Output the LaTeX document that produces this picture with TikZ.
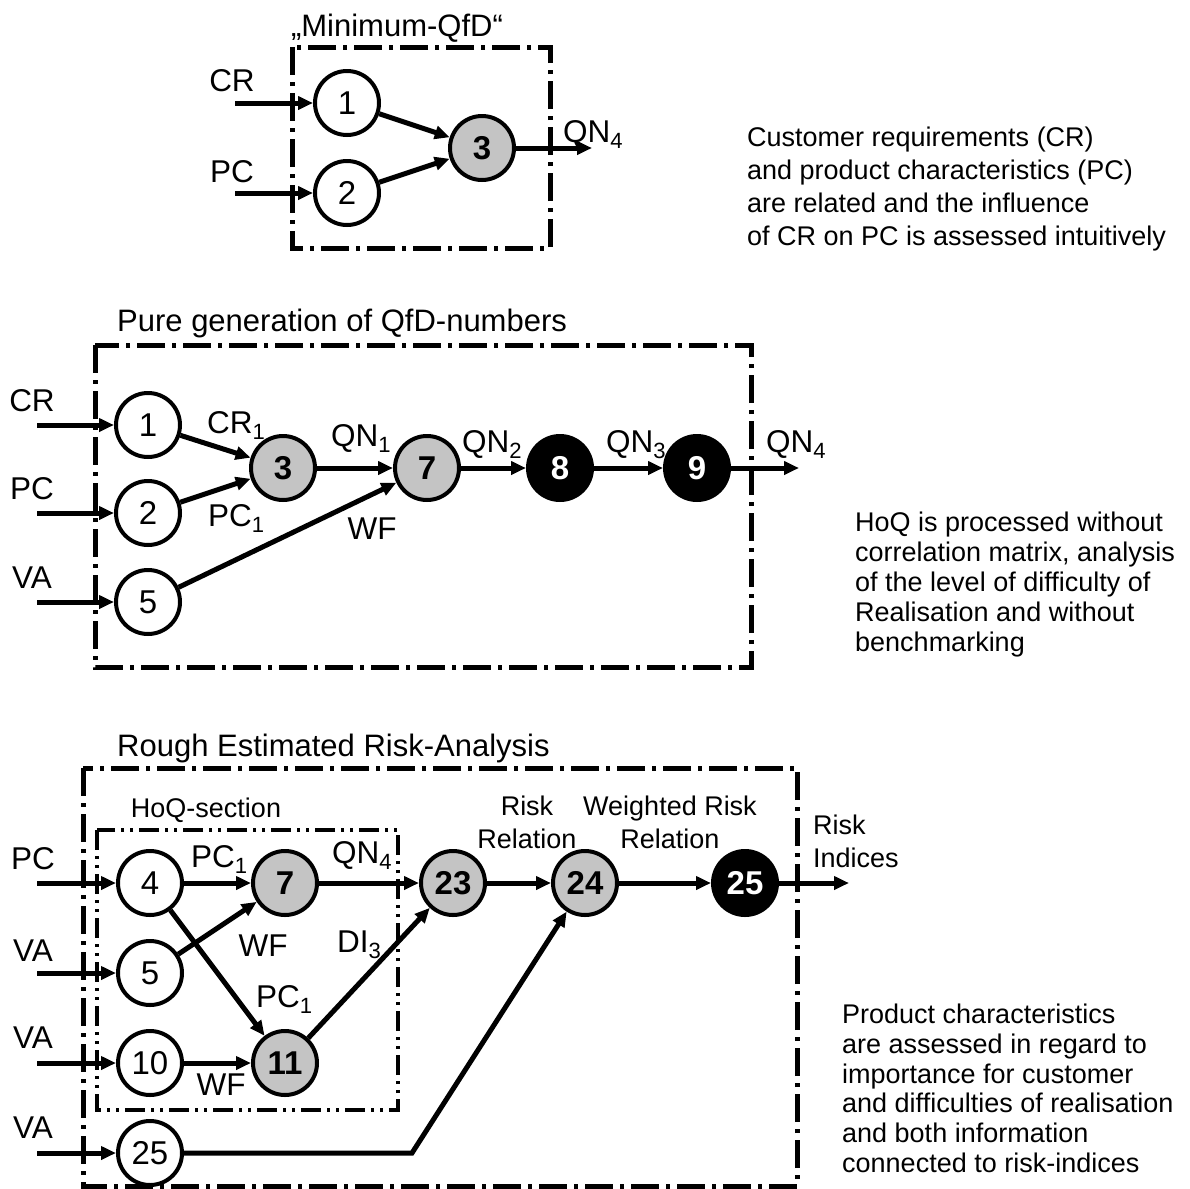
\documentclass[tikz,border=0pt]{standalone}
\usepackage{fontspec}
\setmainfont{Liberation Sans}
\usetikzlibrary{arrows.meta}
\definecolor{hatch}{RGB}{196,196,196}
\begin{document}
\begin{tikzpicture}[x=1pt,y=-1pt,
  circW/.style={circle, draw, line width=4pt, minimum size=64pt, inner sep=0pt, fill=white, font=\fontsize{33}{38}\selectfont},
  circG/.style={circW, fill=hatch, font=\fontsize{33}{38}\selectfont\bfseries},
  circB/.style={circW, fill=black, text=white, font=\fontsize{33}{38}\selectfont\bfseries},
  arr/.style={line width=5pt, -{Triangle[length=15pt,width=13pt]}},
  ddbox/.style={line width=5pt, dash pattern=on 28pt off 7pt on 4pt off 7pt},
  hoqbox/.style={line width=4pt, dash pattern=on 20pt off 6pt on 3pt off 6pt on 3pt off 6pt},
  lab/.style={inner sep=0pt, font=\fontsize{31.5}{36}\selectfont},
  slab/.style={inner sep=0pt, font=\fontsize{27}{33}\selectfont},
  ttl/.style={inner sep=0pt, font=\fontsize{31}{37}\selectfont},
  desc/.style={inner sep=0pt, align=left, anchor=north west}
]
\useasboundingbox (0,0) rectangle (1189,1189);

% ---------------- top: Minimum-QfD ----------------
\node[ttl, anchor=base] (ttop) at (397,36) {„Minimum-QfD“};
\draw[ddbox] (292,47) rectangle (550,248);
\node[circW] (t1) at (347,103) {1};
\node[circW] (t2) at (347,193) {2};
\node[circG] (t3) at (482,148) {3};
\node[lab, anchor=base] (tcr) at (232,91) {CR};
\node[lab, anchor=base] (tpc) at (232,182) {PC};
\coordinate (tin1) at (235,103);
\coordinate (tin2) at (235,193);
\coordinate (tout) at (592,148);
\draw[arr] (tin1) -- (t1);
\draw[arr] (tin2) -- (t2);
\draw[arr] (t1) -- (t3);
\draw[arr] (t2) -- (t3);
\draw[arr] (t3) -- (tout);
\node[lab, anchor=base west] (tqn) at (563,142) {QN\textsubscript{4}};
\node[desc, font=\fontsize{27}{33}\selectfont] (d1) at (747,127) {Customer requirements (CR)\\and product characteristics (PC)\\are related and the influence\\of CR on PC is assessed intuitively};

% ---------------- middle: pure generation ----------------
\node[ttl, anchor=base west] (tmid) at (117,331) {Pure generation of QfD-numbers};
\draw[ddbox] (95,345) rectangle (751,667);
\node[circW] (m1) at (148,425) {1};
\node[circW] (m2) at (148,513) {2};
\node[circW] (m5) at (148,602) {5};
\node[circG] (m3) at (283,468) {3};
\node[circG] (m7) at (427,468) {7};
\node[circB] (m8) at (560,468) {8};
\node[circB] (m9) at (697,468) {9};
\node[lab, anchor=base] (mcr) at (32,411) {CR};
\node[lab, anchor=base] (mpc) at (32,499) {PC};
\node[lab, anchor=base] (mva) at (32,588) {VA};
\coordinate (min1) at (37,425);
\coordinate (min2) at (37,513);
\coordinate (min5) at (37,602);
\coordinate (mout) at (799,468);
\draw[arr] (min1) -- (m1);
\draw[arr] (min2) -- (m2);
\draw[arr] (min5) -- (m5);
\draw[arr] (m1) -- (m3);
\draw[arr] (m2) -- (m3);
\draw[arr] (m3) -- (m7);
\draw[arr] (m5) -- (m7);
\draw[arr] (m7) -- (m8);
\draw[arr] (m8) -- (m9);
\draw[arr] (m9) -- (mout);
\node[lab, anchor=base west] (mcr1) at (207,433) {CR\textsubscript{1}};
\node[lab, anchor=base west] (mpc1) at (208,526) {PC\textsubscript{1}};
\node[lab, anchor=base west] (mqn1) at (331,446) {QN\textsubscript{1}};
\node[lab, anchor=base] (mwf) at (372,539) {WF};
\node[lab, anchor=base west] (mqn2) at (462,452) {QN\textsubscript{2}};
\node[lab, anchor=base west] (mqn3) at (606,452) {QN\textsubscript{3}};
\node[lab, anchor=base west] (mqn4) at (766,452) {QN\textsubscript{4}};
\node[desc, font=\fontsize{27}{30}\selectfont] (d2) at (855,512) {HoQ is processed without\\correlation matrix, analysis\\of the level of difficulty of\\Realisation and without\\benchmarking};

% ---------------- bottom: risk analysis ----------------
\node[ttl, anchor=base west] (tbot) at (117,756) {Rough Estimated Risk-Analysis};
\draw[ddbox] (83,768) rectangle (797,1186);
\node[slab, anchor=base] (thoq) at (206,817) {HoQ-section};
\draw[hoqbox] (97,830) rectangle (398,1110);
\node[circW] (b4) at (150,883) {4};
\node[circW] (b5) at (150,973) {5};
\node[circW] (b10) at (150,1063) {10};
\node[circW] (bw25) at (150,1153) {25};
\node[circG] (b7) at (285,883) {7};
\node[circG] (b11) at (285,1063) {11};
\node[circG] (b23) at (453,883) {23};
\node[circG] (b24) at (585,883) {24};
\node[circB] (b25) at (745,883) {25};
\node[lab, anchor=base] (bpc) at (33,869) {PC};
\node[lab, anchor=base] (bva1) at (33,961) {VA};
\node[lab, anchor=base] (bva2) at (33,1048) {VA};
\node[lab, anchor=base] (bva3) at (33,1138) {VA};
\coordinate (bin4) at (37,883);
\coordinate (bin5) at (37,973);
\coordinate (bin10) at (37,1063);
\coordinate (bin25) at (37,1153);
\coordinate (bbend) at (412,1153);
\coordinate (bout) at (849,883);
\draw[arr] (bin4) -- (b4);
\draw[arr] (bin5) -- (b5);
\draw[arr] (bin10) -- (b10);
\draw[arr] (bin25) -- (bw25);
\draw[arr] (b4) -- (b7);
\draw[arr] (b4) -- (b11);
\draw[arr] (b5) -- (b7);
\draw[arr] (b10) -- (b11);
\draw[arr] (b7) -- (b23);
\draw[arr] (b11) -- (b23);
\draw[arr] (b23) -- (b24);
\draw[arr] (b24) -- (b25);
\draw[arr] (b25) -- (bout);
\draw[arr, line join=miter] (bw25) -- (bbend) -- (b24);
\node[lab, anchor=base west] (bpc1) at (191,867) {PC\textsubscript{1}};
\node[lab, anchor=base west] (bqn4) at (332,863) {QN\textsubscript{4}};
\node[lab, anchor=base] (bwf1) at (263,956) {WF};
\node[lab, anchor=base west] (bdi3) at (337,952) {DI\textsubscript{3}};
\node[lab, anchor=base west] (bpc1b) at (256,1007) {PC\textsubscript{1}};
\node[lab, anchor=base] (bwf2) at (221,1095) {WF};
\node[slab, align=center, anchor=base] (brr) at (527,848) {Risk\\Relation};
\node[slab, align=center, anchor=base] (bwrr) at (670,848) {Weighted Risk\\Relation};
\node[slab, align=left, anchor=base west] (bri) at (813,867) {Risk\\Indices};
\node[desc, font=\fontsize{27}{29.7}\selectfont] (d3) at (842,1004) {Product characteristics\\are assessed in regard to\\importance for customer\\and difficulties of realisation\\and both information\\connected to risk-indices};
\end{tikzpicture}
\end{document}
